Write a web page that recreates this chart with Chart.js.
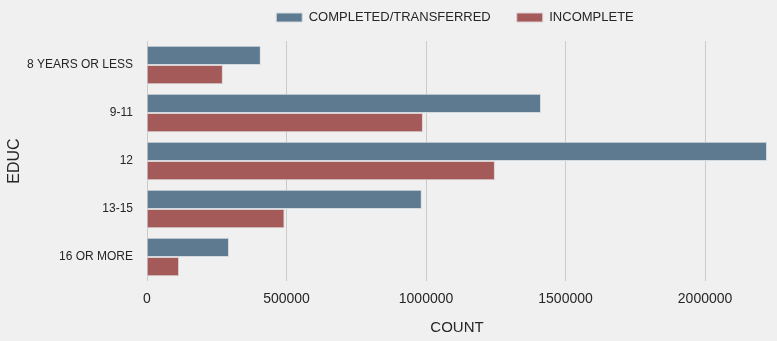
<!DOCTYPE html>
<html>
<head>
<meta charset="utf-8">
<script src="https://cdn.jsdelivr.net/npm/chart.js@4/dist/chart.umd.min.js"></script>
<style>
  html, body { margin: 0; padding: 0; background: #f0f0f0; }
  #wrap { width: 777px; height: 341px; }
</style>
</head>
<body>
<div id="wrap"><canvas id="c" width="777" height="341"></canvas></div>
<script>
const categories = ["8 YEARS OR LESS", "9-11", "12", "13-15", "16 OR MORE"];
const completed = [408000, 1412000, 2222000, 985000, 294000];
const incomplete = [272000, 989000, 1247000, 493000, 115000];
const seriesNames = ["COMPLETED/TRANSFERRED", "INCOMPLETE"];
const xTicks = [0, 500000, 1000000, 1500000, 2000000];

const FONT = "'Liberation Sans', Arial, sans-serif";
const TXT = "#262626";
const LEG_PAD = 26;

const legendPlace = {
  id: "legendPlace",
  afterInit(chart) {
    const lg = chart.legend;
    if (!lg) return;
    const origFit = lg.fit.bind(lg);
    lg.fit = function () { origFit(); this.height = 41; };
  },
  afterLayout(chart) {
    const lg = chart.legend;
    if (!lg) return;
    lg.left = chart.chartArea.left - 2;
    lg.right = chart.chartArea.right - 2;
    lg.top = 16.5 - LEG_PAD - 5.5;
  }
};

new Chart(document.getElementById("c"), {
  type: "bar",
  data: {
    labels: categories,
    datasets: [
      { label: seriesNames[0], data: completed, backgroundColor: "#5d7a91", borderColor: "#d4dbe0", borderWidth: 1, categoryPercentage: 0.8, barPercentage: 1.0 },
      { label: seriesNames[1], data: incomplete, backgroundColor: "#a55a5a", borderColor: "#dcd0d0", borderWidth: 1, categoryPercentage: 0.8, barPercentage: 1.0 }
    ]
  },
  plugins: [legendPlace],
  options: {
    indexAxis: "y",
    responsive: false,
    animation: false,
    layout: { padding: { left: 0, right: 10, top: 0, bottom: 0 } },
    plugins: {
      tooltip: { enabled: false },
      legend: {
        position: "top",
        align: "center",
        labels: {
          boxWidth: 26, boxHeight: 9, padding: LEG_PAD,
          color: TXT, font: { family: FONT, size: 13 }
        }
      }
    },
    scales: {
      x: {
        min: 0,
        max: Math.max(...completed, ...incomplete),
        afterBuildTicks: (s) => { s.ticks = xTicks.map(v => ({ value: v })); },
        grid: { color: "#cbcbcb", lineWidth: 1, drawTicks: false },
        border: { display: false },
        ticks: { color: TXT, font: { family: FONT, size: 14 }, padding: 10, callback: v => String(v) },
        title: { display: true, text: "COUNT", color: TXT, font: { family: FONT, size: 15 }, padding: { top: 10, bottom: 4 } },
        afterFit: (s) => { s.height = 60; }
      },
      y: {
        grid: { display: false, drawTicks: false },
        border: { display: false },
        ticks: { color: TXT, font: { family: FONT, size: 12 }, padding: 14 },
        title: { display: true, text: "EDUC", color: TXT, font: { family: FONT, size: 16 }, padding: { top: 5, bottom: 0 } },
        afterFit: (s) => { s.width = 147; }
      }
    }
  }
});
</script>
</body>
</html>
